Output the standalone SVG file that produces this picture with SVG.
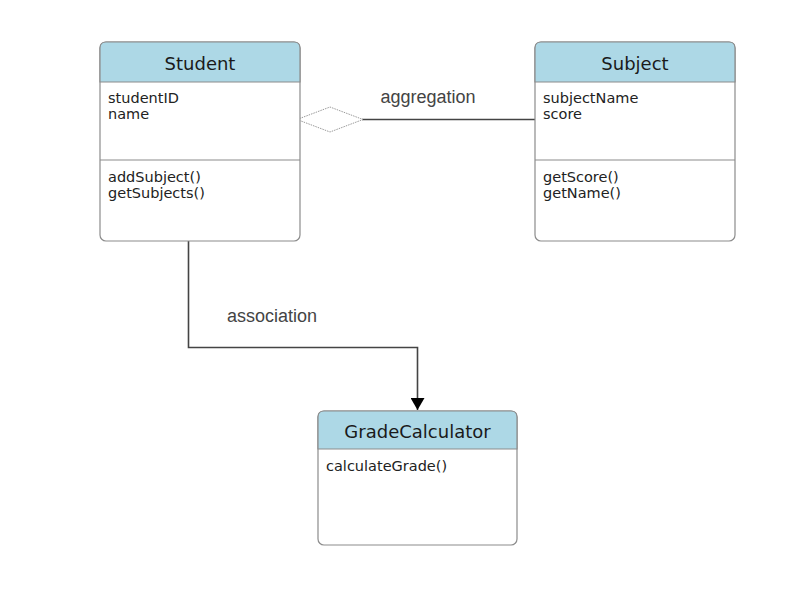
<svg xmlns="http://www.w3.org/2000/svg" width="811" height="596" viewBox="0 0 811 596">
<style>
.box{fill:#ffffff;stroke:#8c8c8c;stroke-width:1.2}
.hdr{fill:#add8e6;stroke:#8c8c8c;stroke-width:1.2}
.div{stroke:#8c8c8c;stroke-width:1.2}
.title{font-family:"DejaVu Sans",Verdana,sans-serif;font-size:18px;fill:#1a1a1a;text-anchor:middle}
.mem{font-family:"DejaVu Sans",Verdana,sans-serif;font-size:14.5px;fill:#222}
.lbl{font-family:"Liberation Sans",Arial,sans-serif;font-size:18px;fill:#444}
.conn{stroke:#444;stroke-width:1.6;fill:none}
</style>
<defs>
<marker id="arrow" markerWidth="12" markerHeight="14" refX="12" refY="7" orient="auto" markerUnits="userSpaceOnUse">
<path d="M0,0 L12,7 L0,14 Z" fill="#000"/>
</marker>
</defs>
<rect width="811" height="596" fill="#ffffff"/>
<g id="connectors">
<path class="conn" d="M362,119.5 L536,119.5"/>
<path d="M297,119.5 L330,107 L363,119.5 L330,132 Z" fill="#ffffff" stroke="#9a9a9a" stroke-width="1" stroke-dasharray="1.5,1"/>
<path class="conn" d="M188.5,241 L188.5,347.5 L417.5,347.5 L417.5,410" marker-end="url(#arrow)"/>
<text class="lbl" x="428" y="103" text-anchor="middle">aggregation</text>
<text class="lbl" x="227" y="322">association</text>
</g>
<g id="student">
<rect class="box" x="100" y="42" width="200" height="199" rx="6"/>
<path class="hdr" d="M100,82 L100,48 Q100,42 106,42 L294,42 Q300,42 300,48 L300,82 Z"/>
<line class="div" x1="100" y1="160" x2="300" y2="160"/>
<text class="title" x="200" y="70">Student</text>
<text class="mem" x="108" y="103">studentID</text>
<text class="mem" x="108" y="119">name</text>
<text class="mem" x="108" y="181.5">addSubject()</text>
<text class="mem" x="108" y="197.5">getSubjects()</text>
</g>
<g id="subject">
<rect class="box" x="535" y="42" width="200" height="199" rx="6"/>
<path class="hdr" d="M535,82 L535,48 Q535,42 541,42 L729,42 Q735,42 735,48 L735,82 Z"/>
<line class="div" x1="535" y1="160" x2="735" y2="160"/>
<text class="title" x="635" y="70">Subject</text>
<text class="mem" x="543" y="103">subjectName</text>
<text class="mem" x="543" y="119">score</text>
<text class="mem" x="543" y="181.5">getScore()</text>
<text class="mem" x="543" y="197.5">getName()</text>
</g>
<g id="gradecalculator">
<rect class="box" x="318" y="411" width="199" height="134" rx="6"/>
<path class="hdr" d="M318,449 L318,417 Q318,411 324,411 L511,411 Q517,411 517,417 L517,449 Z"/>
<text class="title" x="417.5" y="438">GradeCalculator</text>
<text class="mem" x="326" y="470.5">calculateGrade()</text>
</g>
</svg>
